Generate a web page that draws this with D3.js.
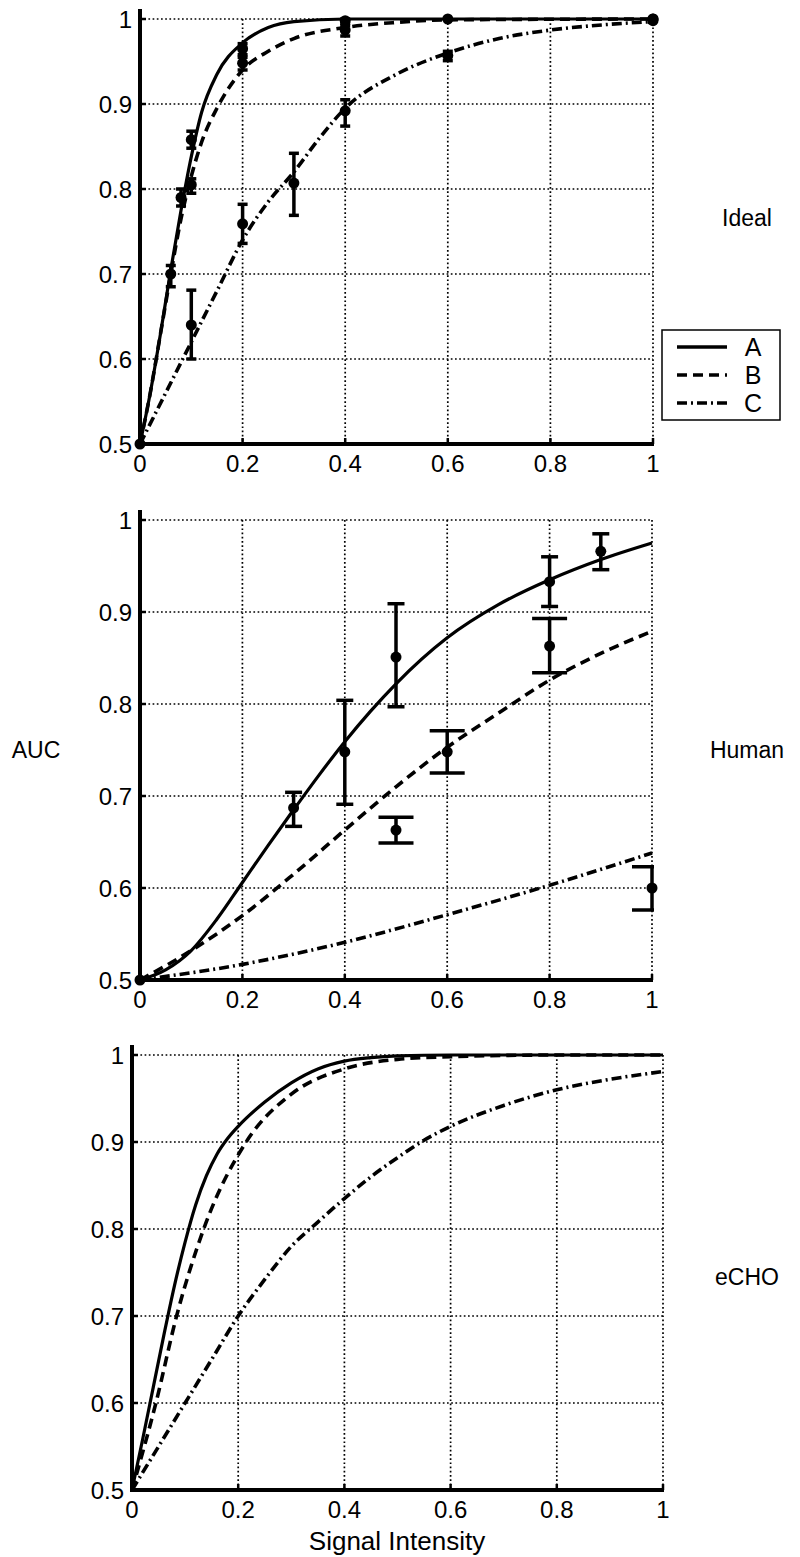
<!DOCTYPE html>
<meta charset="utf-8" />
<script src="https://d3js.org/d3.v7.min.js"></script>
<style>
  body { margin: 0; background: white; }
  text { font-family: "Liberation Sans", Arial, sans-serif; fill: black; }
</style>
<div id="chart"></div>
<script>
  // ticks
  const xTicks = [0, 0.2, 0.4, 0.6, 0.8, 1];
  const xTickLabels = ["0", "0.2", "0.4", "0.6", "0.8", "1"];
  const yTicks = [0.5, 0.6, 0.7, 0.8, 0.9, 1];
  const yTickLabels = ["0.5", "0.6", "0.7", "0.8", "0.9", "1"];

  const seriesNames = ["A", "B", "C"];
  const panelNames = ["Ideal", "Human", "eCHO"];

  // fitted curves, [signal, AUC]
  const idealCurveA = [[0,0.5],[0.02,0.56],[0.04,0.63],[0.06,0.705],[0.08,0.775],[0.1,0.838],[0.12,0.89],[0.15,0.935],[0.2,0.972],[0.25,0.99],[0.3,0.997],[0.4,1],[0.6,1],[1,1]];
  const idealCurveB = [[0,0.5],[0.02,0.56],[0.04,0.63],[0.06,0.7],[0.08,0.765],[0.1,0.815],[0.12,0.855],[0.15,0.895],[0.2,0.94],[0.25,0.962],[0.3,0.977],[0.4,0.99],[0.5,0.996],[0.6,0.999],[1,1]];
  const idealCurveC = [[0,0.5],[0.05,0.56],[0.1,0.62],[0.15,0.68],[0.2,0.74],[0.25,0.785],[0.3,0.82],[0.35,0.86],[0.4,0.895],[0.5,0.935],[0.6,0.96],[0.7,0.977],[0.8,0.987],[0.9,0.993],[1,0.997]];

  const humanCurveA = [[0,0.5],[0.05,0.511],[0.1,0.532],[0.15,0.566],[0.2,0.606],[0.25,0.646],[0.3,0.685],[0.35,0.723],[0.4,0.759],[0.45,0.792],[0.5,0.822],[0.6,0.872],[0.7,0.908],[0.8,0.935],[0.9,0.957],[1,0.975]];
  const humanCurveB = [[0,0.5],[0.1,0.532],[0.2,0.57],[0.3,0.615],[0.4,0.663],[0.5,0.71],[0.6,0.753],[0.7,0.79],[0.8,0.826],[0.9,0.855],[1,0.879]];
  const humanCurveC = [[0,0.5],[0.2,0.517],[0.4,0.541],[0.6,0.571],[0.8,0.603],[1,0.638]];

  const echoCurveA = [[0,0.5],[0.02,0.558],[0.04,0.618],[0.06,0.678],[0.08,0.735],[0.1,0.785],[0.12,0.828],[0.14,0.861],[0.16,0.886],[0.18,0.904],[0.2,0.918],[0.25,0.946],[0.3,0.968],[0.35,0.984],[0.4,0.993],[0.45,0.997],[0.5,0.999],[0.6,1],[1,1]];
  const echoCurveB = [[0,0.5],[0.045,0.6],[0.084,0.7],[0.135,0.8],[0.215,0.9],[0.3,0.955],[0.4,0.984],[0.5,0.995],[0.6,0.998],[0.8,1],[1,1]];
  const echoCurveC = [[0,0.5],[0.05,0.55],[0.1,0.6],[0.15,0.65],[0.2,0.7],[0.25,0.742],[0.3,0.78],[0.35,0.808],[0.4,0.835],[0.45,0.86],[0.5,0.882],[0.55,0.902],[0.6,0.918],[0.7,0.942],[0.8,0.96],[0.9,0.972],[1,0.981]];

  // measured points, [signal, AUC, low, high]
  const idealPointsA = [[0,0.5,0.5,0.5],[0.06,0.7,0.685,0.71],[0.1,0.858,0.848,0.868],[0.2,0.965,0.958,0.971],[0.4,0.998,0.995,1],[0.6,1,1,1],[1,1,1,1]];
  const idealPointsB = [[0.08,0.79,0.78,0.8],[0.1,0.805,0.795,0.812],[0.2,0.948,0.94,0.955],[0.4,0.987,0.98,0.992],[1,1,1,1]];
  const idealPointsC = [[0.1,0.64,0.6,0.681],[0.2,0.759,0.736,0.782],[0.3,0.807,0.769,0.842],[0.4,0.892,0.874,0.905],[0.6,0.957,0.951,0.962],[1,0.998,0.996,1]];

  const humanPointsA = [[0,0.5,0.5,0.5],[0.3,0.687,0.667,0.704],[0.4,0.748,0.691,0.804],[0.5,0.851,0.797,0.909],[0.8,0.933,0.906,0.96],[0.9,0.966,0.946,0.985]];
  const humanPointsB = [[0.5,0.663,0.649,0.677],[0.6,0.748,0.725,0.771],[0.8,0.863,0.834,0.893]];
  const humanPointsC = [[1,0.6,0.576,0.623]];

  const dashes = ["none", "10,6", "10,4,2,4"];

  const W = 800, H = 1557;
  const svg = d3.select("#chart").append("svg").attr("width", W).attr("height", H);

  const panels = [
    { name: panelNames[0], left: 140, right: 653, top: 19, bottom: 444, curves: [idealCurveA, idealCurveB, idealCurveC], points: [idealPointsA, idealPointsB, idealPointsC], capW: [5, 5, 5], labelY: 218 },
    { name: panelNames[1], left: 140, right: 652, top: 520, bottom: 980, curves: [humanCurveA, humanCurveB, humanCurveC], points: [humanPointsA, humanPointsB, humanPointsC], capW: [8.5, 17.5, 20], labelY: 750 },
    { name: panelNames[2], left: 132, right: 663, top: 1055, bottom: 1490, curves: [echoCurveA, echoCurveB, echoCurveC], points: [], capW: [5, 5, 5], labelY: 1277 }
  ];

  panels.forEach(function (p, pi) {
    const x = d3.scaleLinear().domain([0, 1]).range([p.left, p.right]);
    const y = d3.scaleLinear().domain([0.5, 1]).range([p.bottom, p.top]);
    const g = svg.append("g");

    // clip so that caps stop at the plot edge
    const clipId = "clip" + pi;
    svg.append("clipPath").attr("id", clipId)
      .append("rect").attr("x", p.left - 2).attr("y", p.top - 12)
      .attr("width", p.right - p.left + 4).attr("height", p.bottom - p.top + 16);

    // dotted grid
    g.selectAll(".gx").data(xTicks.slice(1)).enter().append("line")
      .attr("x1", d => x(d)).attr("x2", d => x(d))
      .attr("y1", p.top).attr("y2", p.bottom)
      .attr("stroke", "black").attr("stroke-width", 1.7)
      .attr("stroke-dasharray", "1.7,2.5");
    g.selectAll(".gy").data(yTicks.slice(1)).enter().append("line")
      .attr("x1", p.left).attr("x2", p.right)
      .attr("y1", d => y(d)).attr("y2", d => y(d))
      .attr("stroke", "black").attr("stroke-width", 1.7)
      .attr("stroke-dasharray", "1.7,2.5");

    // axes
    g.append("line").attr("x1", p.left).attr("x2", p.left)
      .attr("y1", p.top - 10).attr("y2", p.bottom + 2)
      .attr("stroke", "black").attr("stroke-width", 4);
    g.append("line").attr("x1", p.left - 2).attr("x2", p.right + 1)
      .attr("y1", p.bottom).attr("y2", p.bottom)
      .attr("stroke", "black").attr("stroke-width", 4);
    g.selectAll(".ty").data(yTicks).enter().append("line")
      .attr("x1", p.left).attr("x2", p.left + 6)
      .attr("y1", d => y(d)).attr("y2", d => y(d))
      .attr("stroke", "black").attr("stroke-width", 2.5);
    g.selectAll(".tx").data(xTicks).enter().append("line")
      .attr("x1", d => x(d)).attr("x2", d => x(d))
      .attr("y1", p.bottom).attr("y2", p.bottom - 6)
      .attr("stroke", "black").attr("stroke-width", 2.5);

    // tick labels
    g.selectAll(".lx").data(xTicks).enter().append("text")
      .attr("x", d => x(d)).attr("y", p.bottom + 28)
      .attr("text-anchor", "middle").style("font-size", "24px")
      .text((d, i) => xTickLabels[i]);
    g.selectAll(".ly").data(yTicks).enter().append("text")
      .attr("x", p.left - 8).attr("y", d => y(d) + 9)
      .attr("text-anchor", "end").style("font-size", "24px")
      .text((d, i) => yTickLabels[i]);

    // curves
    const line = d3.line().x(d => x(d[0])).y(d => y(d[1])).curve(d3.curveMonotoneX);
    p.curves.forEach(function (c, ci) {
      g.append("path").datum(c).attr("d", line)
        .attr("fill", "none").attr("stroke", "black")
        .attr("stroke-width", ci === 0 ? 3.2 : 3.6)
        .attr("stroke-dasharray", dashes[ci]);
    });

    // error bars + markers
    const eg = g.append("g").attr("clip-path", "url(#" + clipId + ")");
    p.points.forEach(function (pts, si) {
      const cw = p.capW[si];
      const s = eg.append("g");
      s.selectAll(".ev").data(pts).enter().append("line")
        .attr("x1", d => x(d[0])).attr("x2", d => x(d[0]))
        .attr("y1", d => y(d[2])).attr("y2", d => y(d[3]))
        .attr("stroke", "black").attr("stroke-width", 3.5);
      s.selectAll(".ct").data(pts.filter(d => d[3] > d[2])).enter().append("line")
        .attr("x1", d => x(d[0]) - cw).attr("x2", d => x(d[0]) + cw)
        .attr("y1", d => y(d[3])).attr("y2", d => y(d[3]))
        .attr("stroke", "black").attr("stroke-width", 3.5);
      s.selectAll(".cb").data(pts.filter(d => d[3] > d[2])).enter().append("line")
        .attr("x1", d => x(d[0]) - cw).attr("x2", d => x(d[0]) + cw)
        .attr("y1", d => y(d[2])).attr("y2", d => y(d[2]))
        .attr("stroke", "black").attr("stroke-width", 3.5);
    });
    p.points.forEach(function (pts) {
      g.selectAll(null).data(pts).enter().append("circle")
        .attr("cx", d => x(d[0])).attr("cy", d => y(d[1])).attr("r", 5.5)
        .attr("fill", "black");
    });

    // panel name on the right
    g.append("text").attr("x", 747).attr("y", p.labelY + 8)
      .attr("text-anchor", "middle").style("font-size", "23px")
      .text(p.name);
  });

  // shared labels
  svg.append("text").attr("x", 36).attr("y", 758)
    .attr("text-anchor", "middle").style("font-size", "23px").text("AUC");
  svg.append("text").attr("x", 397).attr("y", 1550)
    .attr("text-anchor", "middle").style("font-size", "26px").text("Signal Intensity");

  // legend in the top panel
  const legend = svg.append("g");
  legend.append("rect").attr("x", 662).attr("y", 330).attr("width", 118).attr("height", 90)
    .attr("fill", "white").attr("stroke", "black").attr("stroke-width", 1.5);
  seriesNames.forEach(function (n, i) {
    const ly = 347 + i * 28;
    legend.append("line").attr("x1", 677).attr("x2", 727).attr("y1", ly).attr("y2", ly)
      .attr("stroke", "black").attr("stroke-width", 3.5).attr("stroke-dasharray", dashes[i]);
    legend.append("text").attr("x", 753).attr("y", ly + 9).attr("text-anchor", "middle")
      .style("font-size", "25px").text(n);
  });
</script>
